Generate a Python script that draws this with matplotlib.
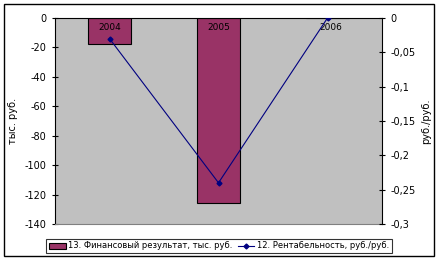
import matplotlib
matplotlib.use("Agg")
import matplotlib.pyplot as plt
from matplotlib.patches import Rectangle
import numpy as np

years = ["2004", "2005", "2006"]
fin_result = [-18, -126, 0]
profitability = [-0.03, -0.24, 0.0]
bar_label = "13. Финансовый результат, тыс. руб."
line_label = "12. Рентабельность, руб./руб."

plt.rcParams['font.family'] = ['DejaVu Sans']
plt.rcParams['axes.unicode_minus'] = False
fig = plt.figure(figsize=(4.38, 2.62), dpi=100)
W, H = 438, 262
ax = fig.add_axes([55 / W, 1 - 224 / H, (382 - 55) / W, (224 - 18) / H])
ax.set_facecolor('#C0C0C0')
x = np.arange(len(years))
bars = ax.bar(x, fin_result, width=0.4, color='#993366', edgecolor='black', linewidth=0.8,
              label=bar_label, zorder=2)
ax.set_xlim(-0.5, 2.5)
ax.set_ylim(-140, 0)
ax.set_yticks(np.arange(-140, 1, 20))
ax.set_xticks([])
for i, y in enumerate(years):
    ax.text(x[i] + (0.03 if i == 2 else 0), -6.5, y, ha='center', va='center', fontsize=6.5, zorder=5)
ax.set_ylabel("тыс. руб.", fontsize=7)
ax.yaxis.set_label_coords((18 - 55) / (382 - 55), 0.5)
ax.tick_params(axis='y', labelsize=7, direction='inout', length=5, width=0.8)
ax.spines['bottom'].set_color('#808080')
ax.spines['top'].set_color('black')
ax.spines['left'].set_color('black')
ax.spines['right'].set_visible(False)

ax2 = ax.twinx()
ax2.plot(x, profitability, color='#000080', marker='D', markersize=2.5, linewidth=0.8,
         label=line_label, zorder=3)
ax2.set_ylim(-0.3, 0)
ax2.set_yticks([0, -0.05, -0.1, -0.15, -0.2, -0.25, -0.3])
ax2.set_yticklabels(["0", "-0,05", "-0,1", "-0,15", "-0,2", "-0,25", "-0,3"])
ax2.tick_params(axis='y', labelsize=7, direction='inout', length=5, width=0.8)
ax2.set_ylabel("руб./руб.", fontsize=7)
ax2.yaxis.set_label_coords((421 - 55) / (382 - 55), 0.5)
for s in ['left', 'top', 'bottom']:
    ax2.spines[s].set_visible(False)
ax2.spines['right'].set_color('black')

h1, l1 = ax.get_legend_handles_labels()
h2, l2 = ax2.get_legend_handles_labels()
leg = fig.legend(h1 + h2, l1 + l2, loc='center', bbox_to_anchor=((50 + 388) / 2 / W, 1 - 246 / H),
                 ncol=2, fontsize=6, frameon=True, fancybox=False, borderpad=0.35,
                 handlelength=2.0, handletextpad=0.3, columnspacing=0.6, edgecolor='black',
                 borderaxespad=0)
leg.get_frame().set_linewidth(0.8)

fig.patches.append(Rectangle((4 / W, 6 / H), 430 / W, 252 / H, transform=fig.transFigure,
                             fill=False, edgecolor='black', linewidth=1))
fig.savefig("out.png", dpi=100)
